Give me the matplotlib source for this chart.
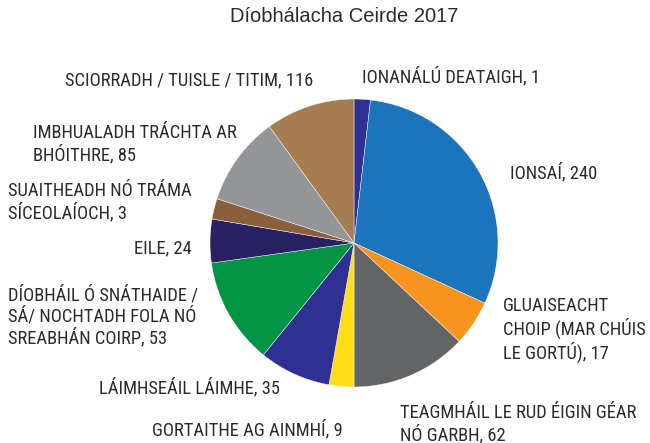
import matplotlib
matplotlib.use('Agg')
import matplotlib.pyplot as plt

# Categories in drawing order (clockwise from 12 o'clock)
CATEGORIES = [
    'IONANÁLÚ DEATAIGH',
    'IONSAÍ',
    'GLUAISEACHT\nCHOIP (MAR CHÚIS\nLE GORTÚ)',
    'TEAGMHÁIL LE RUD ÉIGIN GÉAR\nNÓ GARBH',
    'GORTAITHE AG AINMHÍ',
    'LÁIMHSEÁIL LÁIMHE',
    'DÍOBHÁIL Ó SNÁTHAIDE /\nSÁ/ NOCHTADH FOLA NÓ\nSREABHÁN COIRP',
    'EILE',
    'SUAITHEADH NÓ TRÁMA\nSÍCEOLAÍOCH',
    'IMBHUALADH TRÁCHTA AR\nBHÓITHRE',
    'SCIORRADH / TUISLE / TITIM',
]
# Numbers printed in the labels
LABEL_VALUES = [1, 240, 17, 62, 9, 35, 53, 24, 3, 85, 116]
# Slice sizes as drawn in the picture (degrees)
SLICE_DEGREES = [6.6, 108.1, 18.4, 46.9, 10.0, 29.0, 43.0, 17.6, 8.3, 36.1, 36.0]

COLORS = ['#2e3192', '#1c75bc', '#f7941d', '#636466', '#ffde17', '#2e3192',
          '#009444', '#262262', '#8b5e3c', '#939598', '#a67c52']

# label anchor (pixels from top-left) and alignment
LABEL_POS = [
    (362, 77, 'left'),
    (510, 173, 'left'),
    (503, 330, 'left'),
    (400, 424, 'left'),
    (343, 430, 'right'),
    (280, 388, 'right'),
    (8, 317, 'left'),
    (192, 248, 'right'),
    (8, 202, 'left'),
    (33, 144, 'left'),
    (313, 80, 'right'),
]

W, H = 650, 443
FONT = ['Roboto Condensed', 'Archivo Narrow', 'PT Sans Narrow', 'Liberation Sans', 'DejaVu Sans']
TEXT_COLOR = '#2b2b2b'

fig = plt.figure(figsize=(W / 100, H / 100), dpi=100)
fig.patch.set_facecolor('white')

# pie centre ~ (354, 243) px, radius ~144 px
cx, cy, r = 354, 243, 144
ax = fig.add_axes([(cx - r) / W, (H - cy - r) / H, 2 * r / W, 2 * r / H])
ax.pie(SLICE_DEGREES, colors=COLORS, startangle=90, counterclock=False,
       radius=1, wedgeprops=dict(edgecolor='white', linewidth=0.3))
ax.set_xlim(-1, 1)
ax.set_ylim(-1, 1)
ax.set_aspect('equal')
ax.axis('off')

fig.text(344 / W, 1 - 17 / H, 'Díobhálacha Ceirde 2017', ha='center', va='center',
         fontsize=14.5, family=['Liberation Sans', 'DejaVu Sans'], color=TEXT_COLOR)

for name, val, (x, y, ha) in zip(CATEGORIES, LABEL_VALUES, LABEL_POS):
    fig.text(x / W, 1 - y / H, f'{name}, {val}', ha=ha, va='center',
             multialignment=ha, fontsize=13.3, family=FONT, color=TEXT_COLOR,
             linespacing=1.15)

fig.savefig('out.png', dpi=100, facecolor='white')
